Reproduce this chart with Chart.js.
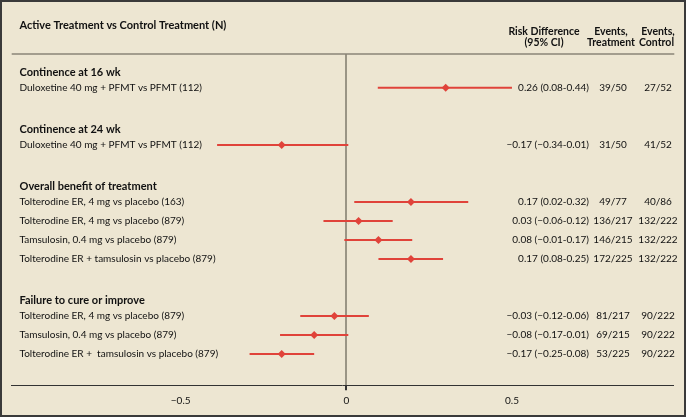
<!DOCTYPE html>
<html>
<head>
<meta charset="utf-8">
<script src="https://cdn.jsdelivr.net/npm/chart.js@4"></script>
<style>
  html, body { margin: 0; padding: 0; background: #ede6d2; }
  #wrap { width: 686px; height: 417px; position: relative; }
</style>
</head>
<body>
<div id="wrap"><canvas id="forestChart" width="686" height="417"></canvas></div>
<script>
// groups and rows of the forest plot
const groupTitles = ['Continence at 16 wk', 'Continence at 24 wk', 'Overall benefit of treatment', 'Failure to cure or improve'];
const groupSizes = [1, 1, 4, 3];
const rowLabels = [
    'Duloxetine 40 mg + PFMT vs PFMT (112)',
    'Duloxetine 40 mg + PFMT vs PFMT (112)',
    'Tolterodine ER, 4 mg vs placebo (163)',
    'Tolterodine ER, 4 mg vs placebo (879)',
    'Tamsulosin, 0.4 mg vs placebo (879)',
    'Tolterodine ER + tamsulosin vs placebo (879)',
    'Tolterodine ER, 4 mg vs placebo (879)',
    'Tamsulosin, 0.4 mg vs placebo (879)',
    'Tolterodine ER +  tamsulosin vs placebo (879)'
];
// positions as drawn in the figure
const estimate = [0.30, -0.195, 0.195, 0.037, 0.097, 0.195, -0.036, -0.097, -0.195];
const ciLow = [0.095, -0.39, 0.024, -0.069, -0.006, 0.097, -0.139, -0.20, -0.292];
const ciHigh = [0.50, 0.006, 0.368, 0.14, 0.199, 0.292, 0.068, 0.006, -0.097];
// printed columns
const rdText = [
    '0.26 (0.08-0.44)', '\u22120.17 (\u22120.34-0.01)',
    '0.17 (0.02-0.32)', '0.03 (\u22120.06-0.12)', '0.08 (\u22120.01-0.17)', '0.17 (0.08-0.25)',
    '\u22120.03 (\u22120.12-0.06)', '\u22120.08 (\u22120.17-0.01)', '\u22120.17 (\u22120.25-0.08)'
];
const eventsTreatment = ['39/50', '31/50', '49/77', '136/217', '146/215', '172/225', '81/217', '69/215', '53/225'];
const eventsControl = ['27/52', '41/52', '40/86', '132/222', '132/222', '132/222', '90/222', '90/222', '90/222'];
const xTicks = [-0.5, 0, 0.5];

const FONT = 'Lato, "Noto Sans", sans-serif';
const RED = '#e0433a';
const INK = '#111';

// row positions (1 unit = one row)
const headerPos = [];
const rowPos = [];
let p = 0;
groupSizes.forEach((n, g) => {
    headerPos.push(p);
    for (let i = 0; i < n; i++) rowPos.push(p + 0.8 + i);
    p = p + 0.8 + (n - 1) + 2.2;
});

const ciSets = rowPos.map((y, i) => ({
    type: 'line',
    data: [{ x: ciLow[i], y: y }, { x: ciHigh[i], y: y }],
    borderColor: RED,
    borderWidth: 2,
    pointRadius: 0
}));

const textPlugin = {
    id: 'forestText',
    beforeDraw(chart) {
        const { ctx } = chart;
        ctx.save();
        ctx.fillStyle = '#ede6d2';
        ctx.fillRect(0, 0, chart.width, chart.height);
        ctx.restore();
    },
    afterDraw(chart) {
        const { ctx, chartArea, scales } = chart;
        const y = scales.y;
        ctx.save();
        // header rule
        ctx.strokeStyle = '#8a8577';
        ctx.lineWidth = 1.5;
        ctx.beginPath();
        ctx.moveTo(chartArea.left, chartArea.top);
        ctx.lineTo(chartArea.right, chartArea.top);
        ctx.stroke();

        ctx.fillStyle = INK;
        ctx.textBaseline = 'middle';
        ctx.font = 'bold 11px ' + FONT;
        ctx.textAlign = 'left';
        ctx.fillText('Active Treatment vs Control Treatment (N)', 19.5, 25);
        ctx.font = 'bold 10.5px ' + FONT;
        ctx.textAlign = 'center';
        ctx.fillText('Risk Difference', 544, 32);
        ctx.fillText('(95% CI)', 544, 42.5);
        ctx.fillText('Events,', 611, 32);
        ctx.fillText('Treatment', 611, 42.5);
        ctx.fillText('Events,', 658, 32);
        ctx.fillText('Control', 656.5, 42.5);

        ctx.font = 'bold 11px ' + FONT;
        ctx.textAlign = 'left';
        groupTitles.forEach((t, g) => ctx.fillText(t, 19.5, y.getPixelForValue(headerPos[g])));

        ctx.font = '10px ' + FONT;
        rowLabels.forEach((t, i) => {
            const py = y.getPixelForValue(rowPos[i]);
            ctx.textAlign = 'left';
            ctx.fillText(t, 19.5, py);
            ctx.textAlign = 'right';
            ctx.fillText(rdText[i], 589, py);
            ctx.textAlign = 'center';
            ctx.fillText(eventsTreatment[i], 613, py);
            ctx.fillText(eventsControl[i], 658, py);
        });

        // frame
        ctx.strokeStyle = '#3a3a3a';
        ctx.lineWidth = 3;
        ctx.strokeRect(0.5, 0.5, chart.width - 1, chart.height - 1);
        ctx.restore();
    }
};

new Chart(document.getElementById('forestChart'), {
    type: 'scatter',
    data: {
        datasets: [{
            type: 'scatter',
            data: rowPos.map((y, i) => ({ x: estimate[i], y: y })),
            pointStyle: 'rectRot',
            pointRadius: 4,
            backgroundColor: RED,
            borderColor: RED,
            borderWidth: 0
        }].concat(ciSets)
    },
    options: {
        responsive: false,
        animation: false,
        events: [],
        layout: { padding: { top: 54, left: 11.7, right: 11.7, bottom: 0 } },
        plugins: { legend: { display: false }, tooltip: { enabled: false } },
        scales: {
            x: {
                type: 'linear',
                min: -1.01,
                max: 0.99,
                afterBuildTicks: s => { s.ticks = xTicks.map(v => ({ value: v })); },
                afterFit: s => { s.height = 31.7; },
                ticks: {
                    color: INK,
                    font: { family: FONT, size: 10 },
                    padding: 4,
                    callback: v => (v < 0 ? '\u2212' + Math.abs(v) : String(v))
                },
                grid: {
                    color: c => (c.tick && c.tick.value === 0 ? '#9a9585' : 'transparent'),
                    lineWidth: c => (c.tick && c.tick.value === 0 ? 2 : 0),
                    tickColor: '#333',
                    tickLength: 5,
                    drawOnChartArea: true
                },
                border: { color: '#333', width: 1 }
            },
            y: {
                type: 'linear',
                display: false,
                reverse: true,
                min: -0.98,
                max: 16.44
            }
        }
    },
    plugins: [textPlugin]
});
</script>
</body>
</html>
